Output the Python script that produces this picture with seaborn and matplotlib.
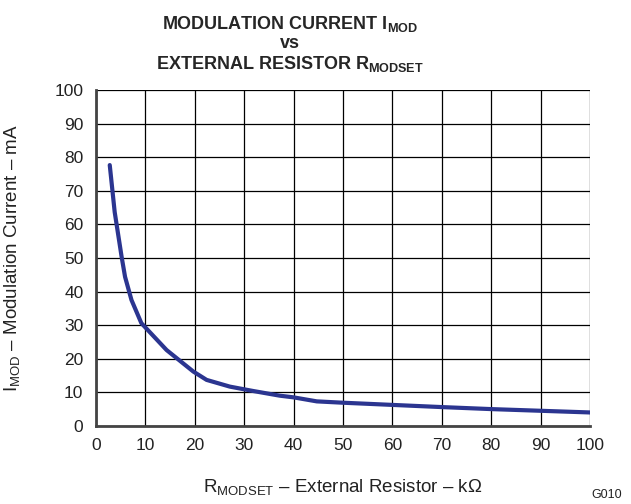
import pandas as pd
import seaborn as sns
import matplotlib.pyplot as plt

# values
r_modset = [2.8, 3.8, 5.2, 5.9, 7.2, 9.2, 14.3, 19.7, 22.4, 27.1, 31.8, 37.2, 40.0, 44.7, 50.0, 60.0, 70.0, 80.0, 90.0, 100.0]
i_mod = [77.7, 63.7, 50.4, 44.4, 37.5, 30.6, 22.6, 16.2, 13.7, 11.7, 10.4, 9.0, 8.5, 7.3, 6.9, 6.25, 5.6, 5.0, 4.5, 4.0]
x_ticks = list(range(0, 101, 10))
y_ticks = list(range(0, 101, 10))

df = pd.DataFrame({"R": r_modset, "I": i_mod})

sns.set_style("white")
plt.rcParams['font.family'] = ['Liberation Sans', 'DejaVu Sans']
plt.rcParams['mathtext.fontset'] = 'custom'
plt.rcParams['mathtext.rm'] = 'Liberation Sans'
plt.rcParams['mathtext.bf'] = 'Liberation Sans:bold'

fig = plt.figure(figsize=(6.31, 5.04), dpi=100)
ax = fig.add_axes([0.152, 0.155, 0.783, 0.666])

sns.lineplot(data=df, x="R", y="I", ax=ax, color="#2B3590", linewidth=3)

ax.set_xlim(0, 100)
ax.set_ylim(0, 100)
ax.set_xticks(x_ticks)
ax.set_yticks(y_ticks)
ax.tick_params(axis="both", length=0, labelsize=12.5, pad=9, colors="#222222")
ax.grid(True, color="black", linewidth=0.9)
for side in ["top", "right"]:
    ax.spines[side].set_visible(False)
for side in ["left", "bottom"]:
    ax.spines[side].set_color("#444444")
    ax.spines[side].set_linewidth(2)

ax.set_xlabel(r"R$_{\mathregular{MODSET}}$ – External Resistor – kΩ", fontsize=13.5, color="#222222")
ax.set_ylabel(r"I$_{\mathregular{MOD}}$ – Modulation Current – mA", fontsize=13.5, color="#222222")
ax.xaxis.set_label_coords(0.5, -0.153)
ax.yaxis.set_label_coords(-0.148, 0.5)

# three-line title, centred slightly left of the axes
fig.text(0.46, 0.952, r"MODULATION CURRENT $\mathbf{I_{MOD}}$", fontsize=13, fontweight="bold", ha="center", va="center")
fig.text(0.46, 0.913, "vs", fontsize=13, fontweight="bold", ha="center", va="center")
fig.text(0.46, 0.874, r"EXTERNAL RESISTOR $\mathbf{R_{MODSET}}$", fontsize=13, fontweight="bold", ha="center", va="center")
fig.text(0.986, 0.012, "G010", fontsize=9, ha="right", color="#222222")

fig.savefig("out.png", dpi=100)
